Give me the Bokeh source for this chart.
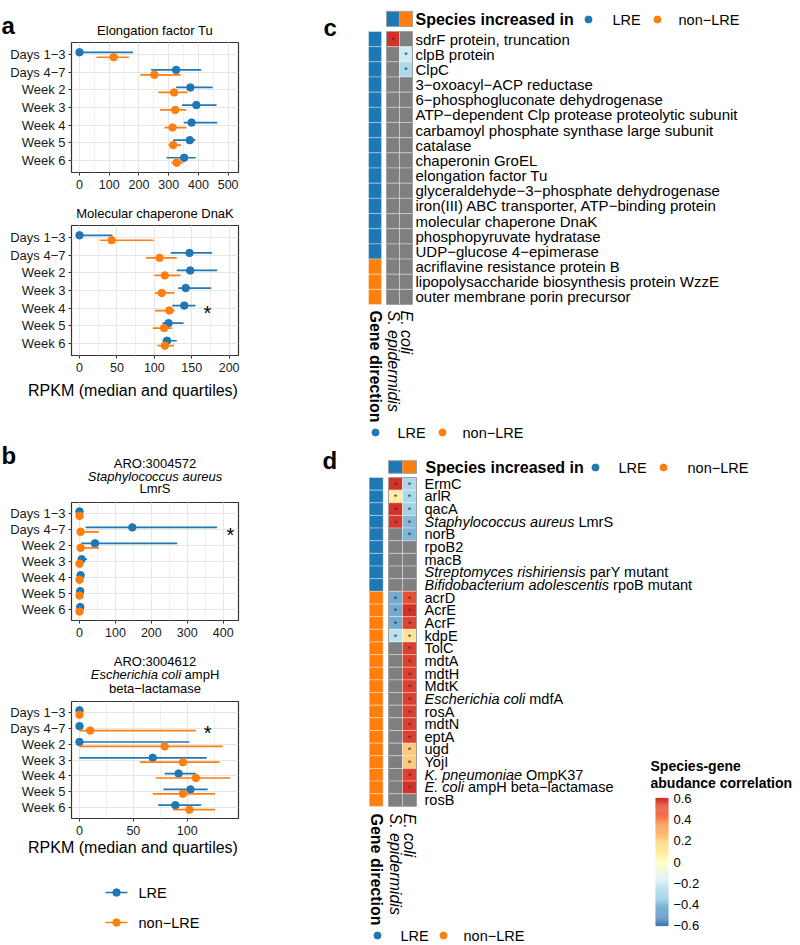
import math
import numpy as np
from bokeh.plotting import figure
from bokeh.models import (Range1d, FactorRange, ColumnDataSource, SingleIntervalTicker,
                          LinearColorMapper)
from bokeh.layouts import column, row
from bokeh.transform import dodge
from bokeh.core.properties import value
from bokeh.embed import file_html
from bokeh.resources import INLINE

NaN = float("nan")
FONT = "Liberation Sans"
BLUE = "#1f77b4"
ORANGE = "#ff7f0e"
NA_GRAY = "#7f7f7f"

# ------------------------------------------------------------------ data
timepoints = ["Days 1−3", "Days 4−7", "Week 2", "Week 3", "Week 4", "Week 5", "Week 6"]
groups = ["LRE", "non−LRE"]

# a (top) Elongation factor Tu
tu_lre_med = [0, 325, 373, 393, 377, 371, 352]
tu_lre_q1 = [0, 241, 325, 345, 351, 315, 293]
tu_lre_q3 = [180, 409, 448, 461, 463, 390, 391]
tu_non_med = [115, 252, 318, 322, 313, 315, 327]
tu_non_q1 = [57, 205, 265, 270, 286, 300, 309]
tu_non_q3 = [166, 340, 364, 359, 360, 342, 349]

# a (bottom) Molecular chaperone DnaK
dnak_lre_med = [0, 147, 148, 142, 140, 119, 117]
dnak_lre_q1 = [0, 122, 130, 132, 124, 111, 111]
dnak_lre_q3 = [44, 177, 184, 176, 155, 139, 130]
dnak_non_med = [43, 107, 114, 110, 120, 113, 114]
dnak_non_q1 = [27, 89, 100, 101, 101, 98, 104]
dnak_non_q3 = [99, 130, 135, 127, 127, 124, 126]
dnak_star_x = [171]
dnak_star_cat = ["Week 4"]

# b (top) ARO:3004572 Staphylococcus aureus LmrS
lmrs_lre_med = [0, 147, 43, 6, 3, 2, 2]
lmrs_lre_q1 = [0, 17, 5, 0, 0, 0, 0]
lmrs_lre_q3 = [2, 383, 272, 21, 5, 4, 4]
lmrs_non_med = [0, 3, 3, 0, 0, 0, 0]
lmrs_non_q1 = [0, 0, 0, 0, 0, 0, 0]
lmrs_non_q3 = [1, 54, 54, 1, 1, 1, 1]
lmrs_star_x = [420]
lmrs_star_cat = ["Days 4−7"]

# b (bottom) ARO:3004612 Escherichia coli ampH beta-lactamase
amph_lre_med = [0, 0, 0, 68, 92, 103, 89]
amph_lre_q1 = [0, 0, 0, 0, 79, 78, 73]
amph_lre_q3 = [0, 0, 102, 118, 108, 119, 113]
amph_non_med = [0, 10, 79, 96, 108, 96, 102]
amph_non_q1 = [0, 0, 0, 56, 71, 68, 87]
amph_non_q3 = [0, 108, 133, 130, 140, 126, 126]
amph_star_x = [119]
amph_star_cat = ["Days 4−7"]

# heatmaps
species = ["S. epidermidis", "E. coli"]
species_dir = ["LRE", "non−LRE"]

c_genes = ["sdrF protein, truncation", "clpB protein", "ClpC", "3−oxoacyl−ACP reductase",
           "6−phosphogluconate dehydrogenase", "ATP−dependent Clp protease proteolytic subunit",
           "carbamoyl phosphate synthase large subunit", "catalase", "chaperonin GroEL",
           "elongation factor Tu", "glyceraldehyde−3−phosphate dehydrogenase",
           "iron(III) ABC transporter, ATP−binding protein", "molecular chaperone DnaK",
           "phosphopyruvate hydratase", "UDP−glucose 4−epimerase", "acriflavine resistance protein B",
           "lipopolysaccharide biosynthesis protein WzzE", "outer membrane porin precursor"]
c_dir = ["LRE", "LRE", "LRE", "LRE", "LRE", "LRE", "LRE", "LRE", "LRE", "LRE", "LRE", "LRE",
         "LRE", "LRE", "LRE", "non−LRE", "non−LRE", "non−LRE"]
c_sepi = [0.6, NaN, NaN, NaN, NaN, NaN, NaN, NaN, NaN, NaN, NaN, NaN, NaN, NaN, NaN, NaN, NaN, NaN]
c_ecoli = [NaN, -0.2, -0.3, NaN, NaN, NaN, NaN, NaN, NaN, NaN, NaN, NaN, NaN, NaN, NaN, NaN, NaN, NaN]

d_italic = ["", "", "", "Staphylococcus aureus", "", "", "", "Streptomyces rishiriensis",
            "Bifidobacterium adolescentis", "", "", "", "", "", "", "", "", "Escherichia coli",
            "", "", "", "", "", "K. pneumoniae", "E. coli", ""]
d_plain = ["ErmC", "arlR", "qacA", "LmrS", "norB", "rpoB2", "macB", "parY mutant", "rpoB mutant",
           "acrD", "AcrE", "AcrF", "kdpE", "TolC", "mdtA", "mdtH", "MdtK", "mdfA", "rosA", "mdtN",
           "eptA", "ugd", "YojI", "OmpK37", "ampH beta−lactamase", "rosB"]
d_dir = ["LRE", "LRE", "LRE", "LRE", "LRE", "LRE", "LRE", "LRE", "LRE",
         "non−LRE", "non−LRE", "non−LRE", "non−LRE", "non−LRE", "non−LRE", "non−LRE", "non−LRE",
         "non−LRE", "non−LRE", "non−LRE", "non−LRE", "non−LRE", "non−LRE", "non−LRE", "non−LRE",
         "non−LRE"]
d_sepi = [0.6, 0.08, 0.6, 0.58, NaN, NaN, NaN, NaN, NaN, -0.45, -0.45, -0.45, -0.25,
          NaN, NaN, NaN, NaN, NaN, NaN, NaN, NaN, NaN, NaN, NaN, NaN, NaN]
d_ecoli = [-0.3, -0.3, -0.32, -0.4, -0.42, NaN, NaN, NaN, NaN, 0.52, 0.6, 0.55, 0.13,
           0.56, 0.56, 0.56, 0.56, 0.56, 0.56, 0.56, 0.56, 0.22, 0.22, 0.56, 0.6, NaN]

cbar_ticks = [-0.6, -0.4, -0.2, 0, 0.2, 0.4, 0.6]
cbar_labels = ["−0.6", "−0.4", "−0.2", "0", "0.2", "0.4", "0.6"]

# ------------------------------------------------------------------ helpers
AW = {' ': 278, '(': 333, ')': 333, ',': 278, '-': 333, '.': 278, ':': 278, '−': 584, '*': 389}
AW.update({d: 556 for d in "0123456789"})
AW.update(dict(zip("ABCDEFGHIJKLMNOPQRSTUVWXYZ",
                   [667, 667, 722, 722, 667, 611, 778, 722, 278, 500, 667, 556, 833, 722, 778, 667,
                    778, 722, 667, 611, 722, 667, 944, 667, 667, 611])))
AW.update(dict(zip("abcdefghijklmnopqrstuvwxyz",
                   [556, 556, 500, 556, 556, 278, 556, 556, 222, 222, 500, 222, 833, 556, 556, 556,
                    556, 333, 500, 278, 556, 500, 722, 500, 500, 500])))


def tw(s, size):
    return sum(AW.get(ch, 556) for ch in s) * size / 1000.0


def add_text(p, x, y, s, size, style="normal", align="left", baseline="middle", angle=0.0,
             color="#000000", x_offset=0):
    p.text(x=[x], y=[y], text=[s], text_font=value(FONT), text_font_size=f"{size}px",
           text_font_style=style, text_align=align, text_baseline=baseline, angle=angle,
           text_color=color, x_offset=x_offset)


def canvas(w, h):
    p = figure(width=w, height=h, x_range=Range1d(0, w), y_range=Range1d(h, 0), min_border=0,
               toolbar_location=None, output_backend="svg", title=None,
               x_axis_location=None, y_axis_location=None, outline_line_color=None)
    p.frame_align = False
    p.grid.visible = False
    return p


LW = 260  # left column width
RW = 540  # right column width


def dot_panel(h, top, frame_h, xr, interval, lre, non, star_x=None, star_cat=None):
    p = figure(width=LW, height=h, x_range=Range1d(*xr),
               y_range=FactorRange(factors=timepoints[::-1], range_padding=0.2,
                                   range_padding_units="absolute"),
               min_border_left=71, min_border_right=22, min_border_top=top,
               min_border_bottom=h - top - frame_h, toolbar_location=None,
               output_backend="svg", title=None)
    p.frame_align = False
    p.outline_line_color = "#333333"
    p.outline_line_width = 1.2
    p.xaxis.ticker = SingleIntervalTicker(interval=interval, num_minor_ticks=2)
    p.xgrid.grid_line_color = "#e6e6e6"
    p.xgrid.minor_grid_line_color = "#f0f0f0"
    p.ygrid.grid_line_color = "#e6e6e6"
    for ax in (p.xaxis[0], p.yaxis[0]):
        ax.axis_line_color = None
        ax.major_tick_line_color = "#333333"
        ax.major_tick_in = 0
        ax.major_tick_out = 3
        ax.minor_tick_line_color = None
        ax.major_label_standoff = 3
        ax.major_label_text_font = FONT
        ax.major_label_text_color = "#1a1a1a"
    p.xaxis.major_label_text_font_size = "12.5px"
    p.yaxis.major_label_text_font_size = "13px"
    for (med, q1, q3), col, off in ((lre, BLUE, 0.14), (non, ORANGE, -0.14)):
        src = ColumnDataSource(dict(cat=timepoints, med=med, lo=q1, hi=q3))
        yy = dodge("cat", off, range=p.y_range)
        p.segment(x0="lo", y0=yy, x1="hi", y1=yy, source=src, line_color=col, line_width=1.7)
        p.scatter(x="med", y=yy, source=src, size=7.5, fill_color=col, line_color=col)
    if star_x:
        p.text(x=star_x, y=star_cat, text=["*"] * len(star_x), text_font=value(FONT),
               text_font_size="20px", text_align="center", text_baseline="middle",
               y_offset=5, text_color="#000000")
    return p


# ------------------------------------------------------------------ left column
c1 = canvas(LW, 40)
add_text(c1, 1, 25, "a", 24, style="bold", baseline="alphabetic")
add_text(c1, 154.5, 29.5, "Elongation factor Tu", 13, align="center")

pa1 = dot_panel(158, 2, 130, (-26.9, 534.8), 100,
                (tu_lre_med, tu_lre_q1, tu_lre_q3), (tu_non_med, tu_non_q1, tu_non_q3))

c2 = canvas(LW, 25)
add_text(c2, 154.5, 15, "Molecular chaperone DnaK", 13, align="center")

pa2 = dot_panel(155, 2, 130, (-10.7, 212.5), 50,
                (dnak_lre_med, dnak_lre_q1, dnak_lre_q3), (dnak_non_med, dnak_non_q1, dnak_non_q3),
                dnak_star_x, dnak_star_cat)

c3 = canvas(LW, 122)
add_text(c3, 132.5, 12, "RPKM (median and quartiles)", 16, align="center")
add_text(c3, 1, 77, "b", 24, style="bold", baseline="alphabetic")
add_text(c3, 154.5, 85, "ARO:3004572", 13, align="center")
add_text(c3, 154.5, 97.5, "Staphylococcus aureus", 13, style="italic", align="center")
add_text(c3, 154.5, 110, "LmrS", 13, align="center")

pb1 = dot_panel(140, 2, 118, (-22.3, 442.6), 100,
                (lmrs_lre_med, lmrs_lre_q1, lmrs_lre_q3), (lmrs_non_med, lmrs_non_q1, lmrs_non_q3),
                lmrs_star_x, lmrs_star_cat)

c4 = canvas(LW, 59)
add_text(c4, 154.5, 21, "ARO:3004612", 13, align="center")
_it, _pl = "Escherichia coli", "ampH"
_tot = tw(_it + " " + _pl, 13)
_x0 = 154.5 - _tot / 2
add_text(c4, _x0, 33.5, _it, 13, style="italic")
add_text(c4, _x0 + tw(_it + " ", 13), 33.5, _pl, 13)
add_text(c4, 154.5, 47.5, "beta−lactamase", 13, align="center")

pb2 = dot_panel(138, 2, 118, (-7.4, 147.6), 50,
                (amph_lre_med, amph_lre_q1, amph_lre_q3), (amph_non_med, amph_non_q1, amph_non_q3),
                amph_star_x, amph_star_cat)

c5 = canvas(LW, 108)
add_text(c5, 132.5, 10, "RPKM (median and quartiles)", 16, align="center")
for gy, g, col in ((55, groups[0], BLUE), (85, groups[1], ORANGE)):
    c5.segment(x0=[105], y0=[gy], x1=[127], y1=[gy], line_color=col, line_width=1.7)
    c5.scatter(x=[116], y=[gy], size=7.5, fill_color=col, line_color=col)
    add_text(c5, 138, gy, g, 14.5)

left = column(c1, pa1, c2, pa2, c3, pb1, c4, pb2, c5, spacing=0)

# ------------------------------------------------------------------ heatmaps
base = ['#4575b4', '#74add1', '#abd9e9', '#e0f3f8', '#ffffbf', '#fee090', '#fdae61', '#f46d43', '#d73027']
rgb = np.array([[int(c[i:i + 2], 16) for i in (1, 3, 5)] for c in base], float)
tt = np.linspace(0, 1, 256)
ss = np.linspace(0, 1, len(base))
pal = ["#%02x%02x%02x" % tuple(int(round(np.interp(t, ss, rgb[:, k]))) for k in range(3)) for t in tt]
mapper = LinearColorMapper(palette=pal, low=-0.6, high=0.6, nan_color=NA_GRAY)

RX0 = 260  # x of right column


def heat_panel(fig_top, fig_h, x0r, y0r, ux, uy, ital, plain, dirs, v_se, v_ec, lab_ref_x,
               lab_size, letter, letter_ref, leg_top, leg_bot, colname_ref_y):
    fx = lambda r: (r - x0r) / ux
    fy = lambda r: (r - y0r) / uy
    p = figure(width=RW, height=fig_h, x_range=Range1d(fx(RX0), fx(RX0 + RW)),
               y_range=Range1d(fy(fig_top + fig_h), fy(fig_top)), min_border=0,
               toolbar_location=None, output_backend="svg", title=None,
               x_axis_location=None, y_axis_location=None, outline_line_color=None)
    p.frame_align = False
    p.grid.visible = False
    n = len(plain)
    rows_y = [i + 0.5 for i in range(n)]
    dcol = [BLUE if d == groups[0] else ORANGE for d in dirs]
    p.rect(x=-0.88, y=rows_y, width=1, height=1, fill_color=dcol, line_color="white",
           line_alpha=0.35, line_width=1)
    xs, ys, vs = [], [], []
    for j, vals in enumerate((v_se, v_ec)):
        for i, v in enumerate(vals):
            xs.append(j + 0.5)
            ys.append(i + 0.5)
            vs.append(v)
    vs = np.array(vs, dtype=float)
    src = ColumnDataSource(dict(x=xs, y=ys, v=vs))
    p.rect("x", "y", 1, 1, source=src, fill_color={"field": "v", "transform": mapper},
           line_color="white", line_alpha=0.35, line_width=1)
    p.rect(x=1, y=n / 2, width=2, height=n, fill_color=None, line_color="#a0a0a0", line_width=1)
    sig = ~np.isnan(vs)
    p.text(x=list(np.array(xs)[sig]), y=list(np.array(ys)[sig]), text=["*"] * int(sig.sum()),
           text_font=value(FONT), text_font_size="9px", text_align="center",
           text_baseline="middle", text_color="#333333", y_offset=1)
    scol = [BLUE if d == groups[0] else ORANGE for d in species_dir]
    p.rect(x=[0.5, 1.5], y=-0.83, width=1, height=1, fill_color=scol, line_color=None)
    p.rect(x=1, y=-0.83, width=2, height=1, fill_color=None, line_color="#a0a0a0", line_width=1)
    # row labels
    lx = fx(lab_ref_x)
    offs = [tw(it + " ", lab_size) if it else 0 for it in ital]
    lsrc = ColumnDataSource(dict(x=[lx] * n, y=rows_y, t=plain, off=offs))
    p.text("x", "y", text="t", x_offset="off", source=lsrc, text_font=value(FONT),
           text_font_size=f"{lab_size}px", text_align="left", text_baseline="middle")
    iy = [rows_y[i] for i, it in enumerate(ital) if it]
    it_t = [it for it in ital if it]
    if it_t:
        p.text(x=[lx] * len(it_t), y=iy, text=it_t, text_font=value(FONT),
               text_font_size=f"{lab_size}px", text_font_style="italic",
               text_align="left", text_baseline="middle")
    # column names (rotated)
    cy = fy(colname_ref_y)
    add_text(p, -0.88, cy, "Gene direction", 16, style="bold", angle=-math.pi / 2)
    add_text(p, 0.5, cy, species[0], 16, style="italic", angle=-math.pi / 2)
    add_text(p, 1.5, cy, species[1], 16, style="italic", angle=-math.pi / 2)
    # panel letter
    add_text(p, fx(letter_ref[0]), fy(letter_ref[1]), letter, 24, style="bold", baseline="alphabetic")
    # legends
    tx, ty, d1, t1, d2, t2 = leg_top
    add_text(p, fx(tx), fy(ty), "Species increased in", 16, style="bold")
    p.scatter(x=[fx(d1), fx(d2)], y=[fy(ty), fy(ty)], size=7, fill_color=[BLUE, ORANGE],
              line_color=[BLUE, ORANGE])
    add_text(p, fx(t1), fy(ty), groups[0], 14.5)
    add_text(p, fx(t2), fy(ty), groups[1], 14.5)
    by, e1, s1, e2, s2 = leg_bot
    p.scatter(x=[fx(e1), fx(e2)], y=[fy(by), fy(by)], size=7, fill_color=[BLUE, ORANGE],
              line_color=[BLUE, ORANGE])
    add_text(p, fx(s1), fy(by), groups[0], 14.5)
    add_text(p, fx(s2), fy(by), groups[1], 14.5)
    return p, fx, fy


pc, _, _ = heat_panel(0, 440, 386, 31, 13, 15.17, [""] * len(c_genes), c_genes, c_dir,
                      c_sepi, c_ecoli, 415, 15, "c", (323, 27),
                      (415, 19, 588, 612, 657, 678), (432, 375, 397, 442, 462), 310)

pd_, fxd, fyd = heat_panel(440, 505, 388, 477, 14, 12.65, d_italic, d_plain, d_dir,
                           d_sepi, d_ecoli, 424, 14.5, "d", (322, 460),
                           (425, 467, 595, 618, 663, 687), (935, 377, 400, 443, 463), 813)

# colour key for the correlation scale (drawn through the same colour mapper)
add_text(pd_, fxd(650), fyd(765), "Species-gene", 14, style="bold")
add_text(pd_, fxd(650), fyd(782), "abudance correlation", 14, style="bold")
cb_top, cb_bot = fyd(798), fyd(925)
key_vals = np.linspace(-0.6, 0.6, 121)
key_y = cb_bot + (key_vals + 0.6) / 1.2 * (cb_top - cb_bot)
key_h = abs(cb_top - cb_bot) / 120 * 1.2
key_src = ColumnDataSource(dict(y=key_y, v=key_vals))
pd_.rect(x=(fxd(655) + fxd(668)) / 2, y="y", width=fxd(668) - fxd(655), height=key_h,
         source=key_src, fill_color={"field": "v", "transform": mapper}, line_color=None)
for t, lab in zip(cbar_ticks, cbar_labels):
    add_text(pd_, fxd(673), cb_bot + (t + 0.6) / 1.2 * (cb_top - cb_bot), lab, 13)

right = column(pc, pd_, spacing=0)
layout = row(left, right, spacing=0)

open("out.html", "w").write(file_html(layout, INLINE))
